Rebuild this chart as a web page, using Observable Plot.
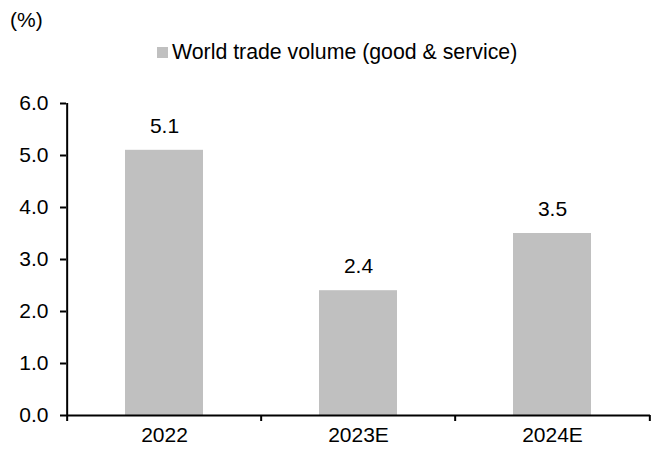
<!DOCTYPE html>
<html>
<head>
<meta charset="utf-8">
<script src="https://cdn.jsdelivr.net/npm/d3@7"></script>
<script src="https://cdn.jsdelivr.net/npm/@observablehq/plot@0.6"></script>
<style>
  body { margin: 0; background: #fff; font-family: "Liberation Sans", Arial, sans-serif; }
  #wrap { position: relative; width: 659px; height: 450px; }
  #header { position: relative; height: 80px; }
  #unit { position: absolute; left: 10px; top: 7px; font-size: 21px; line-height: 26px; color: #000; }
  #legend { position: absolute; left: 157px; top: 39px; font-size: 21.3px; line-height: 26px; color: #000; display: flex; align-items: center; }
  #legend .sw { width: 11px; height: 11px; background: #c0c0c0; margin-right: 4px; }
  #chart svg { display: block; }
</style>
</head>
<body>
<div id="wrap">
  <div id="header">
    <div id="unit">(%)</div>
    <div id="legend"><span class="sw"></span><span id="legendText"></span></div>
  </div>
  <div id="chart"></div>
</div>
<script>
const categories = ["2022", "2023E", "2024E"];
const values = [5.1, 2.4, 3.5];
const yTicks = [0, 1, 2, 3, 4, 5, 6];
const seriesName = "World trade volume (good & service)";
const unitLabel = "(%)";

document.getElementById("legendText").textContent = seriesName;
document.getElementById("unit").textContent = unitLabel;

const data = categories.map((c, i) => ({category: c, value: values[i]}));

const width = 659, height = 370;
const marginLeft = 66, marginRight = 9, marginTop = 23, marginBottom = 35;
const step = (width - marginLeft - marginRight) / categories.length;
const pxPerUnit = (height - marginTop - marginBottom) / 6;
const tickLen = 6 / pxPerUnit;

// category boundaries for the x-axis tick marks
const boundaries = categories.map((c, i) => ({category: c, dx: -step / 2, top: i === 0 ? 6 : 0}))
  .concat([{category: categories[categories.length - 1], dx: step / 2, top: 0}]);

const font = "Liberation Sans, Arial, sans-serif";

const chart = Plot.plot({
  width, height, marginLeft, marginRight, marginTop, marginBottom,
  style: {fontFamily: font, fontSize: "21px", color: "#000", background: "#fff"},
  x: {domain: categories, paddingInner: 0.6, paddingOuter: 0.3, label: null},
  y: {domain: [0, 6], label: null},
  marks: [
    Plot.barY(data, {x: "category", y: "value", fill: "#c0c0c0"}),
    Plot.text(data, {x: "category", y: "value", text: d => d.value.toFixed(1), dy: -24, fontSize: 21, fill: "#000"}),
    Plot.ruleY([0], {stroke: "#000", strokeWidth: 2}),
    ...boundaries.map(b => Plot.ruleX([b], {x: "category", dx: b.dx, y1: -tickLen, y2: b.top, stroke: "#000", strokeWidth: 2})),
    Plot.axisY({ticks: yTicks, tickFormat: d => d.toFixed(1), tickSize: 6, tickPadding: 12, fontSize: 21, stroke: "#000", strokeWidth: 2, strokeOpacity: 1, label: null}),
    Plot.axisX({tickSize: 0, tickPadding: 12, fontSize: 21, label: null})
  ]
});
document.getElementById("chart").appendChild(chart);
</script>
</body>
</html>
